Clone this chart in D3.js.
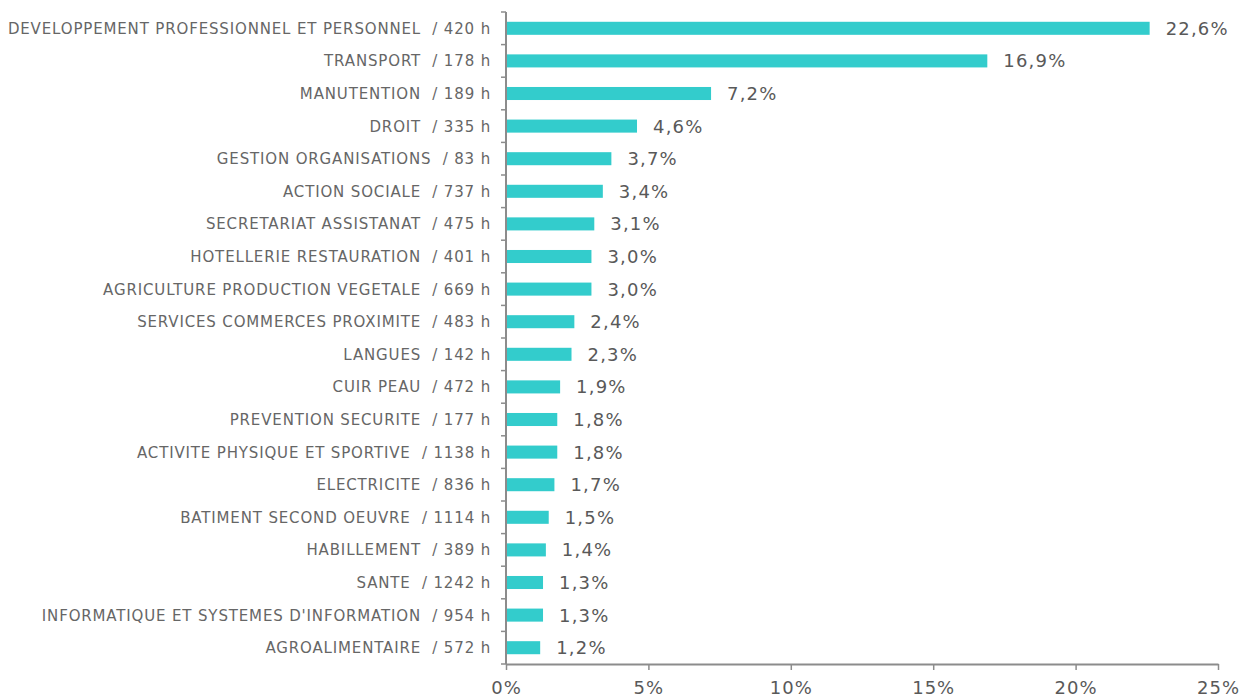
<!DOCTYPE html>
<html>
<head>
<meta charset="utf-8">
<script src="https://cdn.jsdelivr.net/npm/d3@7"></script>
<style>
  body { margin: 0; background: #fff; }
  text { font-family: "DejaVu Sans", Verdana, sans-serif; fill: #595959; }
</style>
</head>
<body>
<div id="canvas"></div>
<script>
"use strict";

/* -------------------- Data -------------------- */

let categories = [
    "DEVELOPPEMENT PROFESSIONNEL ET PERSONNEL", "TRANSPORT", "MANUTENTION", "DROIT",
    "GESTION ORGANISATIONS", "ACTION SOCIALE", "SECRETARIAT ASSISTANAT",
    "HOTELLERIE RESTAURATION", "AGRICULTURE PRODUCTION VEGETALE",
    "SERVICES COMMERCES PROXIMITE", "LANGUES", "CUIR PEAU", "PREVENTION SECURITE",
    "ACTIVITE PHYSIQUE ET SPORTIVE", "ELECTRICITE", "BATIMENT SECOND OEUVRE",
    "HABILLEMENT", "SANTE", "INFORMATIQUE ET SYSTEMES D'INFORMATION", "AGROALIMENTAIRE"
];
let hours = [420, 178, 189, 335, 83, 737, 475, 401, 669, 483, 142, 472, 177, 1138, 836, 1114, 389, 1242, 954, 572];
let shares = [22.6, 16.9, 7.2, 4.6, 3.7, 3.4, 3.1, 3.0, 3.0, 2.4, 2.3, 1.9, 1.8, 1.8, 1.7, 1.5, 1.4, 1.3, 1.3, 1.2];
let xTicks = [0, 5, 10, 15, 20, 25];

/* -------------------- Setup -------------------- */

let svgWidth = 1242;
let svgHeight = 698;
let plotLeft = 506, plotRight = 1218, plotTop = 12, plotBottom = 664;
let axisColor = "#8c8c8c";
let barColor = "#33cccc";

let svg = d3.select("#canvas")
    .append("svg")
    .attr("width", svgWidth)
    .attr("height", svgHeight);

let xScale = d3.scaleLinear()
    .domain([0, 25])
    .range([plotLeft, plotRight]);

let yScale = d3.scaleBand()
    .domain(categories)
    .range([plotTop, plotBottom])
    .paddingInner(0.6)
    .paddingOuter(0.3);

let band = d3.scaleBand().domain(categories).range([plotTop, plotBottom]);

/* -------------------- Bars -------------------- */

svg.selectAll("rect.bar")
    .data(categories)
    .join("rect")
    .attr("class", "bar")
    .attr("x", xScale(0) + 1)
    .attr("y", d => yScale(d))
    .attr("width", (d, i) => xScale(shares[i]) - xScale(0) - 1)
    .attr("height", yScale.bandwidth())
    .attr("fill", barColor);

/* Value labels */
svg.selectAll("text.value")
    .data(categories)
    .join("text")
    .attr("class", "value")
    .attr("x", (d, i) => xScale(shares[i]) + 16)
    .attr("y", d => band(d) + band.bandwidth() / 2)
    .attr("dy", "0.36em")
    .attr("font-size", 18)
    .attr("letter-spacing", 1.2)
    .text((d, i) => d3.format(".1f")(shares[i]).replace(".", ",") + "%");

/* Category labels */
svg.selectAll("text.cat")
    .data(categories)
    .join("text")
    .attr("class", "cat")
    .attr("x", plotLeft - 15)
    .attr("y", d => band(d) + band.bandwidth() / 2)
    .attr("dy", "0.36em")
    .attr("text-anchor", "end")
    .attr("font-size", 15)
    .attr("letter-spacing", 0.85)
    .style("white-space", "pre")
    .style("fill", "#666666")
    .text((d, i) => d + "  / " + hours[i] + " h");

/* -------------------- Axes -------------------- */

let yAxisG = svg.append("g");
yAxisG.append("line")
    .attr("x1", plotLeft).attr("x2", plotLeft)
    .attr("y1", plotTop).attr("y2", plotBottom)
    .attr("stroke", axisColor).attr("stroke-width", 2);

let boundaries = categories.map(d => band(d)).concat([plotBottom]);
yAxisG.selectAll("line.tick")
    .data(boundaries)
    .join("line")
    .attr("class", "tick")
    .attr("x1", plotLeft - 5).attr("x2", plotLeft)
    .attr("y1", d => d).attr("y2", d => d)
    .attr("stroke", axisColor).attr("stroke-width", 1.5);

let xAxis = d3.axisBottom(xScale)
    .tickValues(xTicks)
    .tickSize(6)
    .tickSizeOuter(0)
    .tickFormat(d => d + "%");

let xAxisG = svg.append("g")
    .attr("transform", "translate(0," + plotBottom + ")")
    .call(xAxis);

xAxisG.select(".domain").attr("stroke", axisColor).attr("stroke-width", 2);
xAxisG.selectAll(".tick line").attr("stroke", axisColor).attr("stroke-width", 1.5);
xAxisG.selectAll(".tick text")
    .attr("y", 17)
    .attr("font-size", 18)
    .attr("letter-spacing", 1)
    .attr("font-family", "DejaVu Sans, Verdana, sans-serif")
    .attr("fill", "#595959");
</script>
</body>
</html>
